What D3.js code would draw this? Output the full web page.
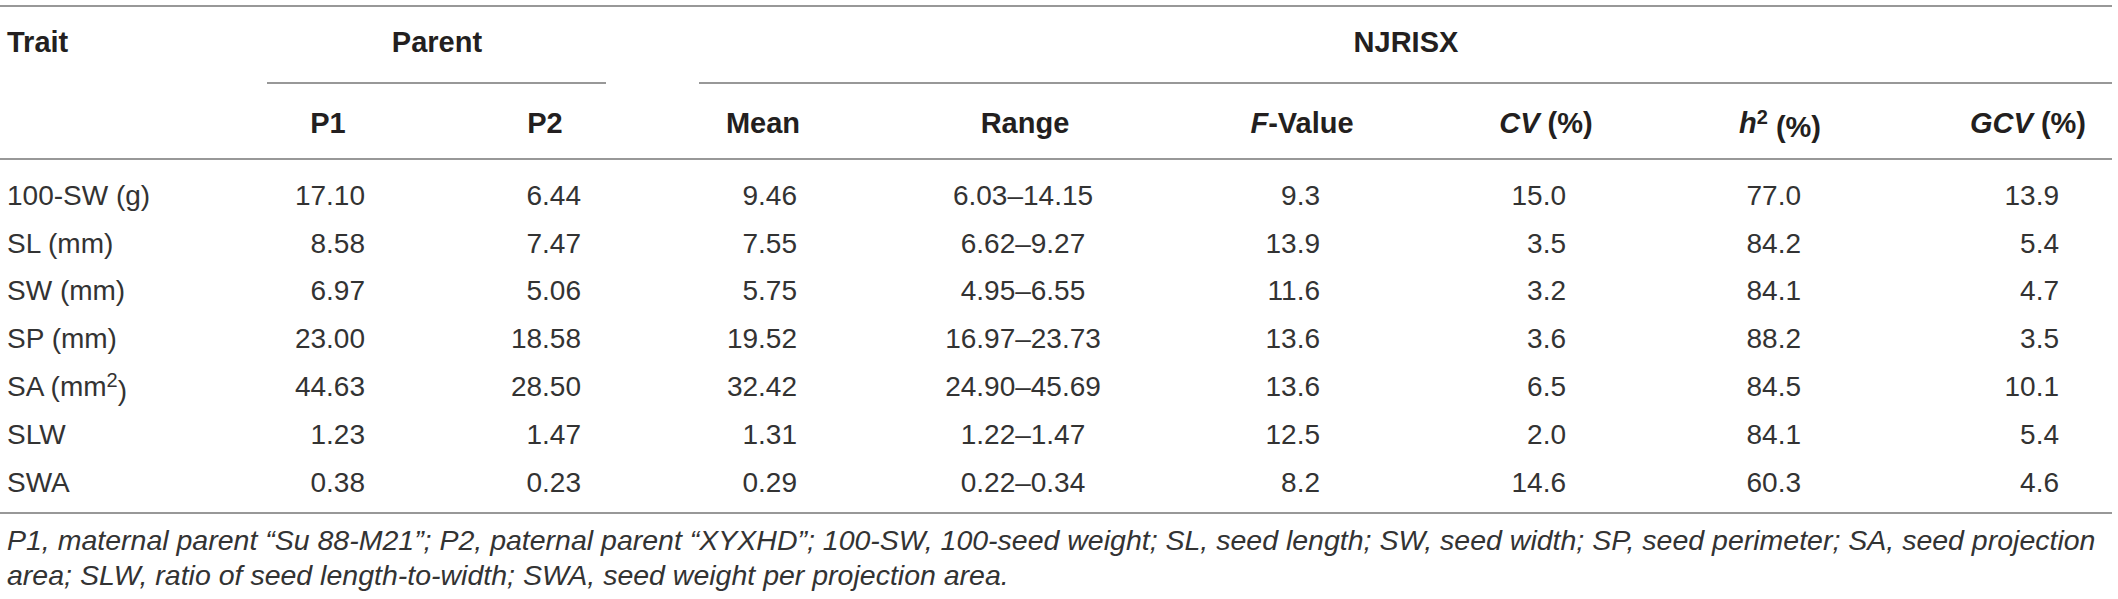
<!DOCTYPE html>
<html>
<head>
<meta charset="utf-8">
<script src="https://cdn.jsdelivr.net/npm/d3@7"></script>
<style>
  body { margin: 0; background: #fff; }
  svg text { font-family: "Liberation Sans", Arial, sans-serif; fill: #231f20; }
  .hd { font-weight: bold; font-size: 29px; }
  .cell { font-size: 28px; fill: #333; }
  .note { font-size: 28.5px; font-style: italic; fill: #333; }
  .rule { stroke: #767676; stroke-width: 1.4; }
</style>
</head>
<body>
<svg id="tbl" width="2118" height="599"></svg>
<script>
// table data
const traits = ["100-SW (g)", "SL (mm)", "SW (mm)", "SP (mm)", "SA (mm2)", "SLW", "SWA"]
const p1 = [17.10, 8.58, 6.97, 23.00, 44.63, 1.23, 0.38]
const p2 = [6.44, 7.47, 5.06, 18.58, 28.50, 1.47, 0.23]
const mean = [9.46, 7.55, 5.75, 19.52, 32.42, 1.31, 0.29]
const rangeLo = [6.03, 6.62, 4.95, 16.97, 24.90, 1.22, 0.22]
const rangeHi = [14.15, 9.27, 6.55, 23.73, 45.69, 1.47, 0.34]
const fValue = [9.3, 13.9, 11.6, 13.6, 13.6, 12.5, 8.2]
const cv = [15.0, 3.5, 3.2, 3.6, 6.5, 2.0, 14.6]
const h2 = [77.0, 84.2, 84.1, 88.2, 84.5, 84.1, 60.3]
const gcv = [13.9, 5.4, 4.7, 3.5, 10.1, 5.4, 4.6]

const footnote = [
	"P1, maternal parent \u201cSu 88-M21\u201d; P2, paternal parent \u201cXYXHD\u201d; 100-SW, 100-seed weight; SL, seed length; SW, seed width; SP, seed perimeter; SA, seed projection",
	"area; SLW, ratio of seed length-to-width; SWA, seed weight per projection area."
]

const f2 = d3.format(".2f"), f1 = d3.format(".1f")

// columns: key, header, anchor x for data, header centre
const columns = [
	{ key: "p1", head: "P1", x: 365, hx: 328, anchor: "end", vals: p1.map(f2) },
	{ key: "p2", head: "P2", x: 581, hx: 545, anchor: "end", vals: p2.map(f2) },
	{ key: "mean", head: "Mean", x: 797, hx: 763, anchor: "end", vals: mean.map(f2) },
	{ key: "range", head: "Range", x: 1023, hx: 1025, anchor: "middle", vals: rangeLo.map((d, i) => f2(d) + "\u2013" + f2(rangeHi[i])) },
	{ key: "f", head: "F", x: 1320, hx: 1302, anchor: "end", vals: fValue.map(f1) },
	{ key: "cv", head: "CV", x: 1566, hx: 1546, anchor: "end", vals: cv.map(f1) },
	{ key: "h2", head: "h", x: 1801, hx: 1780, anchor: "end", vals: h2.map(f1) },
	{ key: "gcv", head: "GCV", x: 2059, hx: 2028, anchor: "end", vals: gcv.map(f1) }
]

const svg = d3.select("#tbl")

// row scale
let yScale = d3.scalePoint()
	.domain(traits)
	.range([195, 482])

// rules
const rules = [
	{ x1: 0, x2: 2112, y: 6 },
	{ x1: 267, x2: 606, y: 83 },
	{ x1: 699, x2: 2112, y: 83 },
	{ x1: 0, x2: 2112, y: 159 },
	{ x1: 0, x2: 2112, y: 513 }
]
svg.selectAll("line.rule")
	.data(rules)
	.join("line")
	.attr("class", "rule")
	.attr("x1", d => d.x1)
	.attr("x2", d => d.x2)
	.attr("y1", d => d.y)
	.attr("y2", d => d.y)

// top header row
svg.append("text").attr("class", "hd").attr("x", 7).attr("y", 42).attr("dy", "0.35em").text("Trait")
svg.append("text").attr("class", "hd").attr("x", 437).attr("y", 42).attr("dy", "0.35em")
	.attr("text-anchor", "middle").text("Parent")
svg.append("text").attr("class", "hd").attr("x", 1406).attr("y", 42).attr("dy", "0.35em")
	.attr("text-anchor", "middle").text("NJRISX")

// second header row
const hd = svg.selectAll("text.sub")
	.data(columns)
	.join("text")
	.attr("class", "hd sub")
	.attr("x", d => d.hx)
	.attr("y", 123)
	.attr("dy", "0.35em")
	.attr("text-anchor", "middle")

hd.each(function (d) {
	let t = d3.select(this)
	if (d.key == "f") {
		t.append("tspan").style("font-style", "italic").text("F")
		t.append("tspan").text("-Value")
	} else if (d.key == "cv" || d.key == "gcv") {
		t.append("tspan").style("font-style", "italic").text(d.head)
		t.append("tspan").text(" (%)")
	} else if (d.key == "h2") {
		t.append("tspan").style("font-style", "italic").text("h")
		t.append("tspan").attr("dy", "-0.45em").style("font-size", "20px").text("2")
		t.append("tspan").attr("dy", "0.45em").text(" (%)")
	} else {
		t.text(d.head)
	}
})

// trait labels
svg.selectAll("text.trait")
	.data(traits)
	.join("text")
	.attr("class", "cell trait")
	.attr("x", 7)
	.attr("y", d => yScale(d))
	.attr("dy", "0.35em")
	.each(function (d) {
		let t = d3.select(this)
		if (d.endsWith("2)")) {
			t.append("tspan").text(d.slice(0, -2))
			t.append("tspan").attr("dy", "-0.45em").style("font-size", "20px").text("2")
			t.append("tspan").attr("dy", "0.45em").text(")")
		} else {
			t.text(d)
		}
	})

// value cells
columns.forEach(col => {
	svg.selectAll("text.c-" + col.key)
		.data(col.vals)
		.join("text")
		.attr("class", "cell c-" + col.key)
		.attr("x", col.x)
		.attr("y", (d, i) => yScale(traits[i]))
		.attr("dy", "0.35em")
		.attr("text-anchor", col.anchor)
		.text(d => d)
})

// footnote
svg.selectAll("text.note")
	.data(footnote)
	.join("text")
	.attr("class", "note")
	.attr("x", 7)
	.attr("y", (d, i) => 540 + i * 35)
	.attr("dy", "0.35em")
	.text(d => d)
</script>
</body>
</html>
